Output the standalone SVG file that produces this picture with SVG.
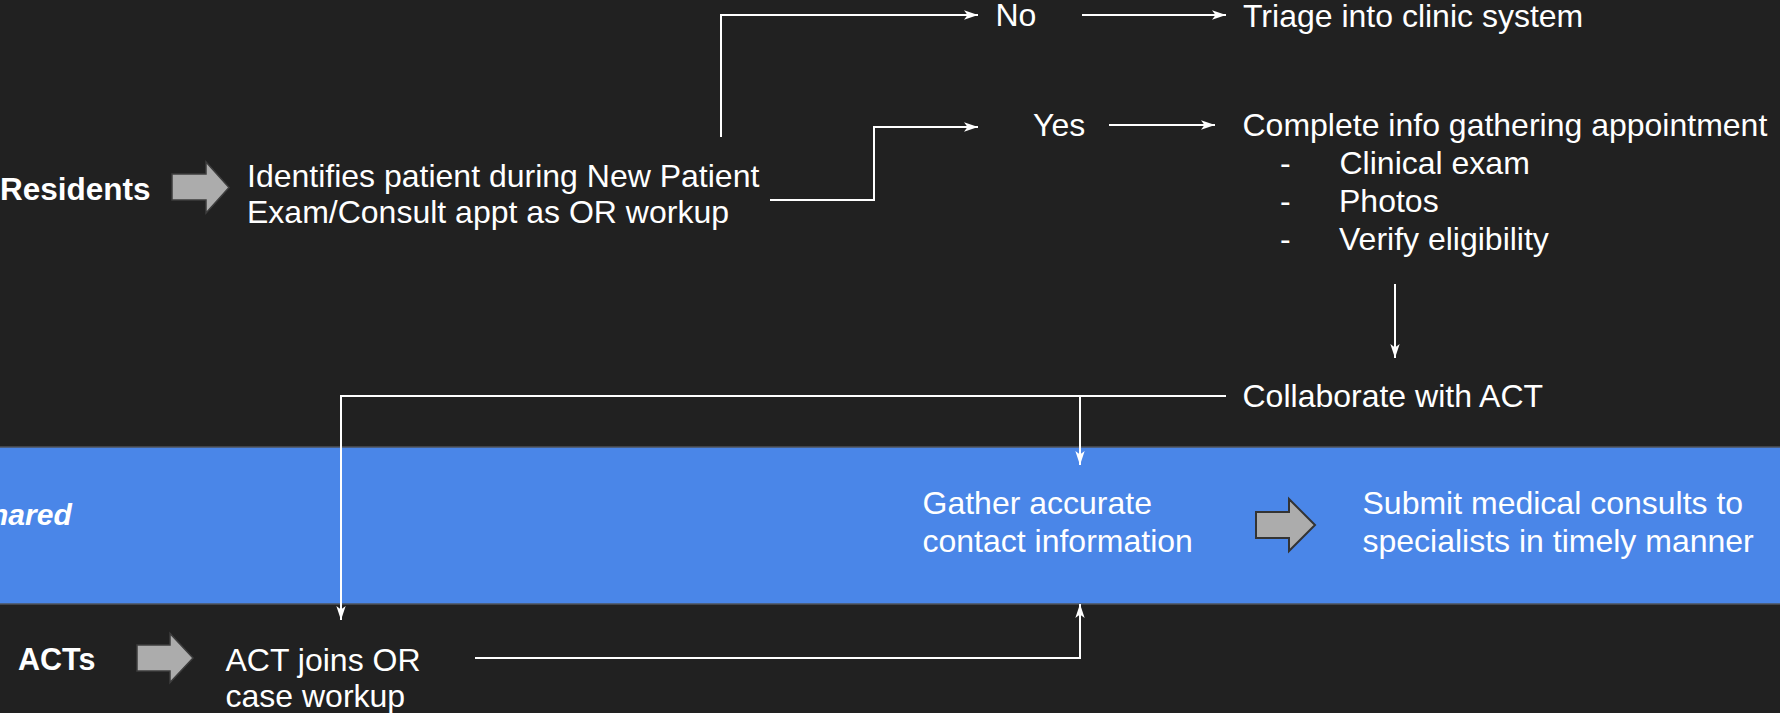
<svg xmlns="http://www.w3.org/2000/svg" width="1780" height="713" viewBox="0 0 1780 713">
  <defs>
    <marker id="tip" markerUnits="userSpaceOnUse" markerWidth="14" markerHeight="10" viewBox="0 0 12 8" refX="12" refY="4" orient="auto">
      <path d="M0,0 L12,4 L0,8 L3,4 Z" fill="#ffffff"/>
    </marker>
    <style>
      .txt { font-family: "Liberation Sans", Arial, sans-serif; font-size: 32px; fill: #ffffff; }
      .role { font-family: "Liberation Sans", Arial, sans-serif; font-weight: bold; fill: #ffffff; }
      .wire { fill: none; stroke: #ffffff; stroke-width: 2; }
      .block { fill: #acacac; stroke: #3d3d3d; stroke-width: 1.5; stroke-linejoin: miter; }
      .block-dark { fill: #acacac; stroke: #333333; stroke-width: 2; }
    </style>
  </defs>

  <!-- canvas -->
  <rect x="0" y="0" width="1780" height="713" fill="#212121"/>

  <!-- shared lane -->
  <g id="lane-shared">
    <rect x="-2" y="447" width="1784" height="157" fill="#4a86e8" stroke="#4f535b" stroke-width="1.5"/>
    <text class="role" x="-30" y="525" font-size="30" font-style="italic">Shared</text>
  </g>

  <!-- residents row -->
  <g id="residents">
    <text class="role" x="0" y="200" font-size="31.5">Residents</text>
    <polygon class="block" points="172,174 206,174 206,162 229,187.5 206,213 206,200 172,200"/>
  </g>
  <g id="identifies">
    <text class="txt" x="247" y="187" font-size="32.4">Identifies patient during New Patient</text>
    <text class="txt" x="247" y="223" font-size="32.4">Exam/Consult appt as OR workup</text>
  </g>

  <g id="no">
    <text class="txt" x="995.5" y="26">No</text>
  </g>
  <g id="triage">
    <text class="txt" x="1243" y="27">Triage into clinic system</text>
  </g>

  <g id="yes">
    <text class="txt" x="1033" y="136">Yes</text>
  </g>
  <g id="info-appt">
    <text class="txt" x="1242.5" y="136">Complete info gathering appointment</text>
    <text class="txt" x="1280" y="174">-</text>
    <text class="txt" x="1339.5" y="174">Clinical exam</text>
    <text class="txt" x="1280" y="212">-</text>
    <text class="txt" x="1339" y="212">Photos</text>
    <text class="txt" x="1280" y="250">-</text>
    <text class="txt" x="1339" y="250">Verify eligibility</text>
  </g>

  <g id="collaborate">
    <text class="txt" x="1242.5" y="407">Collaborate with ACT</text>
  </g>

  <!-- shared lane steps -->
  <g id="gather">
    <text class="txt" x="922.5" y="514" font-size="32.4">Gather accurate</text>
    <text class="txt" x="922.5" y="552" font-size="32.4">contact information</text>
  </g>
  <g id="gather-to-submit">
    <polygon class="block-dark" points="1256,512 1289,512 1289,499 1315,525 1289,551 1289,538 1256,538"/>
  </g>
  <g id="submit">
    <text class="txt" x="1362.5" y="514">Submit medical consults to</text>
    <text class="txt" x="1362.5" y="552">specialists in timely manner</text>
  </g>

  <!-- ACT row -->
  <g id="acts">
    <text class="role" x="18" y="670" font-size="30.5">ACTs</text>
    <polygon class="block" points="137,645 170,645 170,633.5 193,658 170,682.5 170,671 137,671"/>
  </g>
  <g id="act-joins">
    <text class="txt" x="225.5" y="671">ACT joins OR</text>
    <text class="txt" x="225.5" y="707">case workup</text>
  </g>

  <!-- connectors -->
  <g id="connectors">
    <path class="wire" d="M770,200 H874 V127 H978" marker-end="url(#tip)"/>
    <path class="wire" d="M721,137 V15 H978" marker-end="url(#tip)"/>
    <path class="wire" d="M1082,15 H1226" marker-end="url(#tip)"/>
    <path class="wire" d="M1109,125 H1215" marker-end="url(#tip)"/>
    <path class="wire" d="M1395,284 V358" marker-end="url(#tip)"/>
    <path class="wire" d="M1226,396 H341 V620" marker-end="url(#tip)"/>
    <path class="wire" d="M1080,396 V465" marker-end="url(#tip)"/>
    <path class="wire" d="M475,658 H1080 V604" marker-end="url(#tip)"/>
  </g>
</svg>
